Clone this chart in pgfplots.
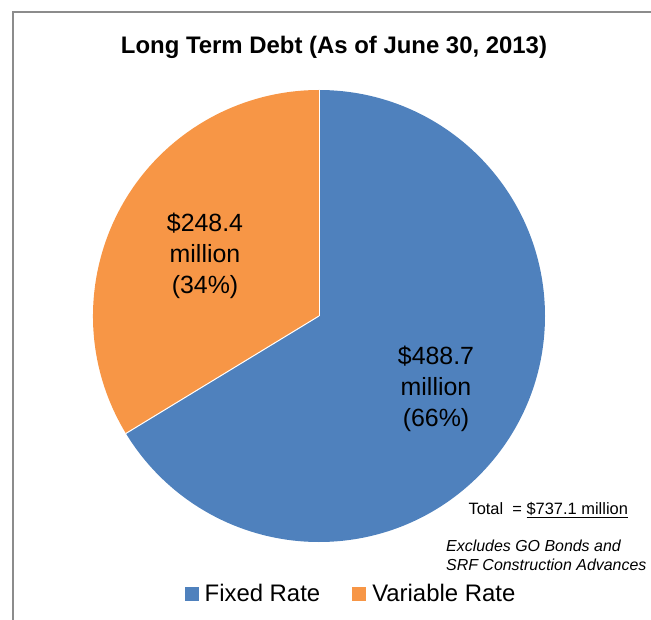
\documentclass[border=0pt]{standalone}
\usepackage{pgfplots}
\pgfplotsset{compat=1.18}
\usepackage{pgfplotstable}
\usepackage{fontspec}
\setmainfont{Liberation Sans}
\definecolor{fixedc}{HTML}{4F81BD}
\definecolor{varc}{HTML}{F79646}
\definecolor{framec}{HTML}{8C8C8C}
\pgfplotstableread{
label value
Fixed 488.7
Variable 248.4
}\debttable
\begin{document}
\begin{tikzpicture}
\pgfplotstablegetelem{0}{value}\of\debttable \let\vfixed\pgfplotsretval
\pgfplotstablegetelem{1}{value}\of\debttable \let\vvar\pgfplotsretval
\pgfmathsetmacro{\afixed}{360*(\vfixed/(\vfixed+\vvar))}
\pgfmathsetmacro{\aend}{90-\afixed}
\begin{axis}[x=1bp,y=1bp,xmin=0,xmax=651,ymin=0,ymax=620,
  hide axis, anchor=origin, at={(0,0)}, clip=false, scale only axis,
  legend columns=2,
  legend style={draw=none, fill=none, at={(axis cs:351,26)}, anchor=center,
    font=\fontsize{24}{28}\selectfont, inner sep=0pt,
    /tikz/every odd column/.append style={column sep=4bp},
    /tikz/every even column/.append style={column sep=30bp}},
  legend image code/.code={\fill[#1] (0bp,-7bp) rectangle (14bp,7bp);}]
\addlegendimage{fill=fixedc, draw=none}
\addlegendentry{Fixed Rate}
\addlegendimage{fill=varc, draw=none}
\addlegendentry{Variable Rate}
\fill[fixedc] (axis cs:319,304) -- ++(90:226bp) arc[start angle=90, end angle=\aend, radius=226bp] -- cycle;
\fill[varc] (axis cs:319,304) -- ++(\aend:226bp) arc[start angle=\aend, end angle=-270, radius=226bp] -- cycle;
\draw[white, line width=1bp] (axis cs:319,304) -- ++(90:226bp);
\draw[white, line width=1bp] (axis cs:319,304) -- ++(\aend:226bp);
\node[font=\bfseries\fontsize{24}{28}\selectfont] at (axis cs:334,573) {Long Term Debt (As of June 30, 2013)};
\node[align=center, font=\fontsize{25}{31}\selectfont] at (axis cs:205,364) {\$248.4\\million\\(34\%)};
\node[align=center, font=\fontsize{25}{31}\selectfont] at (axis cs:436,231) {\$488.7\\million\\(66\%)};
\node[anchor=west, font=\fontsize{16.5}{19}\selectfont] at (axis cs:465,110) {Total\ \ = \underline{\$737.1 million}};
\node[anchor=north west, align=left, inner sep=0pt, font=\itshape\fontsize{16}{18.5}\selectfont] at (axis cs:446,80) {Excludes GO Bonds and\\SRF Construction Advances};
\end{axis}
\draw[framec, line width=1.5bp] (13bp,0) -- (13bp,608bp) -- (651bp,608bp);
\pgfresetboundingbox
\path[use as bounding box] (0,0) rectangle (651bp,620bp);
\end{tikzpicture}
\end{document}
